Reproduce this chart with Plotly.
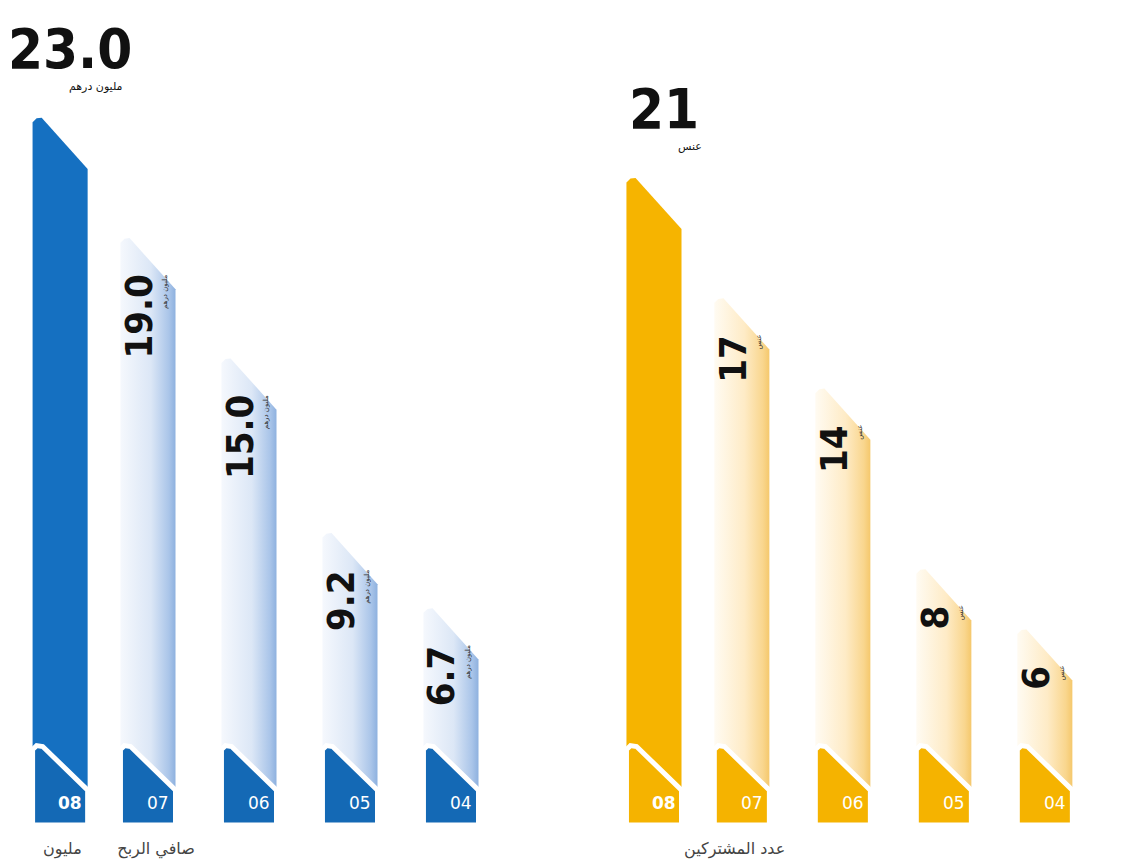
import plotly.graph_objects as go

# ---------------- data ----------------
years = ["08", "07", "06", "05", "04"]
profit_values = [23.0, 19.0, 15.0, 9.2, 6.7]       # blue group (net profit, million)
count_values = [21, 17, 14, 8, 6]                   # yellow group
profit_unit = "مليون درهم"
count_unit = "عنس"
profit_caption = "صافي الربح       مليون"
count_caption = "عدد المشتركين"

# ---------------- styles / layout constants ----------------
BAR_W = 0.545
FIRST_GAP = 0.87          # spacing between highlighted (latest) bar and the next one
GROUP_OFFSET = 5.88       # x offset of the second group
CHAMFER = 1.7             # drop of the top-right corner (value units)
TAB_BOTTOM, TAB_TOP_L, TAB_TOP_R = -0.5, 2.16, 0.66

BLUE = "#1570c1"
BLUE_TAB = "#1469b5"
YELLOW = "#f6b400"
YELLOW_TAB = "#f5b300"
BLUE_GRAD = [[0, "#f5f8fd"], [0.55, "#dce7f6"], [0.88, "#aac5e9"], [1, "#8eb1df"]]
YELLOW_GRAD = [[0, "#fffbf2"], [0.55, "#feebc6"], [0.88, "#f9d68e"], [1, "#f5c86c"]]
NUM_FONT = "DejaVu Sans Condensed, Liberation Sans Narrow, DejaVu Sans"


def positions(offset):
    xs = []
    for i in range(len(years)):
        xs.append(offset + (1 - FIRST_GAP if i == 0 else i))
    return xs


def bar_poly(xc, v):
    x0, x1 = xc - BAR_W / 2, xc + BAR_W / 2
    xs = [x0, x0, x0 + 0.04, x0 + 0.09, x1, x1, x0]
    ys = [0, v - 0.15, v - 0.02, v, v - CHAMFER, 0, 0]
    return xs, ys


def tab_poly(xc):
    x0, x1 = xc - BAR_W / 2, xc + BAR_W / 2
    xs = [x0, x0, x0 + 0.04, x0 + 0.1, x1, x1, x0]
    ys = [TAB_BOTTOM, TAB_TOP_L - 0.15, TAB_TOP_L - 0.02, TAB_TOP_L - 0.05,
          TAB_TOP_R, TAB_BOTTOM, TAB_BOTTOM]
    return xs, ys


fig = go.Figure()
annotations = []

groups = [
    (profit_values, positions(0.0), BLUE, BLUE_TAB, BLUE_GRAD, profit_unit, lambda v: f"{v:.1f}"),
    (count_values, positions(GROUP_OFFSET), YELLOW, YELLOW_TAB, YELLOW_GRAD, count_unit, lambda v: f"{v:g}"),
]

for values, xs, solid, tabc, grad, unit, fmt in groups:
    # bars
    for i, (xc, v) in enumerate(zip(xs, values)):
        px, py = bar_poly(xc, v)
        kw = dict(fillcolor=solid) if i == 0 else dict(
            fillgradient=dict(type="horizontal", colorscale=grad))
        fig.add_trace(go.Scatter(x=px, y=py, mode="lines", fill="toself",
                                 line=dict(width=0, color=solid),
                                 hoverinfo="skip", showlegend=False, **kw))
    # tabs
    for i, xc in enumerate(xs):
        px, py = tab_poly(xc)
        fig.add_trace(go.Scatter(x=px, y=py, mode="lines", fill="toself",
                                 fillcolor=tabc, line=dict(width=5, color="white"),
                                 hoverinfo="skip", showlegend=False))
        annotations.append(dict(
            x=xc + 0.1, y=0.23, text=(f"<b>{years[i]}</b>" if i == 0 else years[i]),
            showarrow=False, font=dict(family="Liberation Sans Narrow, DejaVu Sans", size=17,
                                       color="white"),
            xanchor="center", yanchor="middle"))
    # value labels
    for i, (xc, v) in enumerate(zip(xs, values)):
        if i == 0:
            annotations.append(dict(
                x=xc + 0.36, y=v + 0.75, text=unit, showarrow=False,
                font=dict(family="DejaVu Sans", size=11, color="#111111"),
                xanchor="center", yanchor="bottom"))
            annotations.append(dict(
                x=xc + 0.1, y=v + 1.15, text=f"<b>{fmt(v)}</b>", showarrow=False,
                font=dict(family=NUM_FONT, size=56, color="#111111"),
                xanchor="center", yanchor="bottom"))
        else:
            annotations.append(dict(
                x=xc - 0.09, y=v - 1.15, text=f"<b>{fmt(v)}</b>", showarrow=False,
                textangle=-90, font=dict(family=NUM_FONT, size=38, color="#111111"),
                xanchor="center", yanchor="top"))
            annotations.append(dict(
                x=xc + 0.17, y=v - 1.15, text=unit, showarrow=False,
                textangle=-90, font=dict(family="DejaVu Sans", size=7, color="#333333"),
                xanchor="center", yanchor="top"))

# captions at the bottom edge
annotations.append(dict(x=positions(0.0)[0] + 0.58, y=-1.3, text=profit_caption, showarrow=False,
                        font=dict(family="DejaVu Sans", size=16, color="#444444"),
                        xanchor="center", yanchor="middle"))
annotations.append(dict(x=positions(GROUP_OFFSET)[0] + 0.8, y=-1.3, text=count_caption,
                        showarrow=False,
                        font=dict(family="DejaVu Sans", size=16, color="#444444"),
                        xanchor="center", yanchor="middle"))

# the page body has an 8px margin, so the figure is sized to end at the window edge
fig.update_layout(
    width=1114, height=853,
    margin=dict(l=0, r=0, t=0, b=0),
    paper_bgcolor="white", plot_bgcolor="white",
    xaxis=dict(range=[-0.386, 10.644], visible=False, fixedrange=True),
    yaxis=dict(range=[-1.694, 26.645], visible=False, fixedrange=True),
    annotations=annotations,
    showlegend=False,
)

fig.write_html("out.html")
